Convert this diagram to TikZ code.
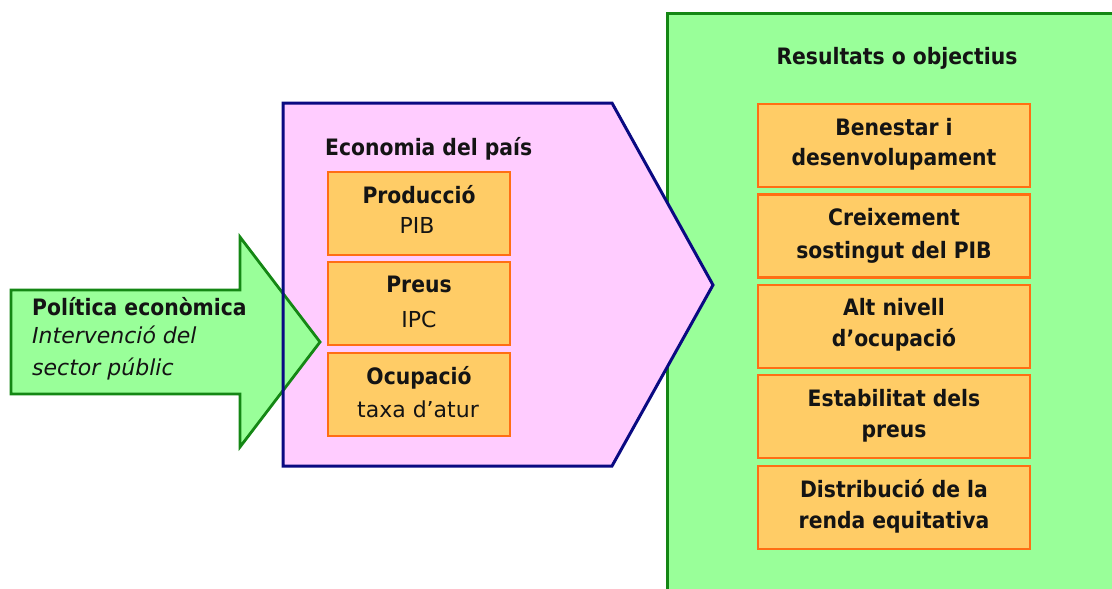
\documentclass[tikz,border=0pt]{standalone}
\usepackage{fontspec}
\setmainfont{DejaVu Sans}
\newfontfamily\condfam{DejaVu Sans Condensed}
\definecolor{pinkfill}{RGB}{255,204,255}
\definecolor{navyline}{RGB}{10,10,130}
\definecolor{greenfill}{RGB}{153,255,153}
\definecolor{greenline}{RGB}{20,135,20}
\definecolor{ofill}{RGB}{255,204,102}
\definecolor{oline}{RGB}{255,110,20}
\definecolor{txt}{RGB}{20,20,20}
\begin{document}
\begin{tikzpicture}[x=1pt,y=-1pt,line join=miter,
  lbox/.style={draw=oline,fill=ofill,line width=2.4pt,minimum width=182pt,minimum height=83pt,inner sep=0pt},
  rbox/.style={draw=oline,fill=ofill,line width=2.4pt,minimum width=272pt,minimum height=83pt,inner sep=0pt},
  btxt/.style={inner sep=0pt,text=txt,font=\condfam\fontsize{22.6}{30}\selectfont\bfseries},
  rtxt/.style={inner sep=0pt,text=txt,font=\fontsize{22}{30}\selectfont},
  itxt/.style={inner sep=0pt,text=txt,font=\fontsize{22}{30}\selectfont\itshape}]
\useasboundingbox (0,0) rectangle (1112,589);
\clip (0,0) rectangle (1112,589);
% results panel
\draw[greenline,fill=greenfill,line width=3pt] (667,13) rectangle (1130,610);
% economy pentagon (fill)
\fill[pinkfill] (283,103) -- (612,103) -- (713,285) -- (612,466) -- (283,466) -- cycle;
% policy arrow
\draw[greenline,fill=greenfill,line width=2.8pt] (11,290) -- (240,290) -- (240,237) -- (320,342) -- (240,447) -- (240,394) -- (11,394) -- cycle;
% economy pentagon (border)
\draw[navyline,line width=3pt] (283,103) -- (612,103) -- (713,285) -- (612,466) -- (283,466) -- cycle;
% titles
\node[btxt,anchor=base west] (econ) at (325,155) {Economia del país};
\node[btxt,anchor=base] (res) at (897,64) {Resultats o objectius};
\node[btxt,anchor=base west] (pol) at (32,315) {Política econòmica};
\node[itxt,anchor=base west] (polB) at (32,343) {Intervenció del};
\node[itxt,anchor=base west] (polC) at (32,375) {sector públic};
% left boxes
\node[lbox] (l1) at (419,213.5) {};
\node[lbox] (l2) at (419,303.5) {};
\node[lbox] (l3) at (419,394.5) {};
\node[btxt,anchor=base] (l1a) at (419,203) {Producció};
\node[rtxt,anchor=base] (l1b) at (417,233) {PIB};
\node[btxt,anchor=base] (l2a) at (419,292) {Preus};
\node[rtxt,anchor=base] (l2b) at (419,327) {IPC};
\node[btxt,anchor=base] (l3a) at (419,384) {Ocupació};
\node[rtxt,anchor=base] (l3b) at (418,417) {taxa d’atur};
% right boxes
\node[rbox] (r1) at (894,145.5) {};
\node[rbox] (r2) at (894,236) {};
\node[rbox] (r3) at (894,326.5) {};
\node[rbox] (r4) at (894,416.5) {};
\node[rbox] (r5) at (894,507.5) {};
\node[btxt,anchor=base] (r1a) at (894,135) {Benestar i};
\node[btxt,anchor=base] (r1b) at (894,165) {desenvolupament};
\node[btxt,anchor=base] (r2a) at (894,225) {Creixement};
\node[btxt,anchor=base] (r2b) at (894,258) {sostingut del PIB};
\node[btxt,anchor=base] (r3a) at (894,315.5) {Alt nivell};
\node[btxt,anchor=base] (r3b) at (894,346) {d’ocupació};
\node[btxt,anchor=base] (r4a) at (894,406.5) {Estabilitat dels};
\node[btxt,anchor=base] (r4b) at (894,437) {preus};
\node[btxt,anchor=base] (r5a) at (894,497.5) {Distribució de la};
\node[btxt,anchor=base] (r5b) at (894,528) {renda equitativa};
\end{tikzpicture}
\end{document}
